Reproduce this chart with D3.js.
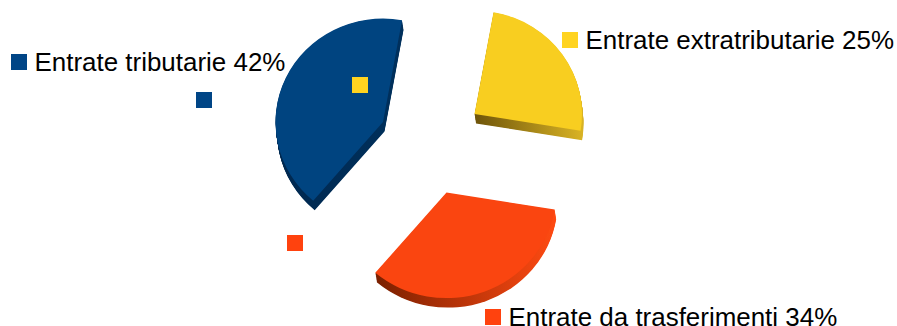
<!DOCTYPE html>
<html>
<head>
<meta charset="utf-8">
<script src="https://cdnjs.cloudflare.com/ajax/libs/d3/7.8.5/d3.min.js"></script>
<style>
html,body{margin:0;padding:0;background:#fff;overflow:hidden}
svg{display:block}
text{font-family:"Liberation Sans",Arial,sans-serif;font-size:25.95px;fill:#000}
</style>
</head>
<body>
<svg id="c" width="897" height="326"></svg>
<script>
// Data
const categories = ["Entrate tributarie", "Entrate extratributarie", "Entrate da trasferimenti"];
const shares = [42, 25, 34];
const pieOrder = [1, 2, 0];            // drawn clockwise from the start angle

// Styling
const markerColors = ["#004586", "#ffd320", "#ff420e"];
const faceColors = ["#004480", "#f8ce20", "#fa4510"];
const wallStops = [["#00284f", "#00305c"], ["#6f550a", "#d9b324"], ["#7a2000", "#ff4a12"]];

// Layout
const W = 897, H = 326;
const radiusX = 107.5, radiusY = 103.5, startDeg = 10.2;
const perspective = [1, 1, 1.02];      // the front slice sits nearer the viewer
const depth = { dx: 1.5, dy: 9.5, layers: 14 };
const apexes = [[383, 122], [474.5, 114], [446.5, 192.5]];
const legendPos = [[11, 54], [562, 32], [485, 309]];
const strayPos = [[196, 92], [352, 77], [287, 235]];
const marker = 16, labelGap = 7.5, baselineOffset = 17;

const svg = d3.select("#c");
const defs = svg.append("defs");

const pie = d3.pie().sort(null)
  .value(i => shares[i])
  .startAngle(startDeg * Math.PI / 180)
  .endAngle((startDeg + 360) * Math.PI / 180);
const arcs = pie(pieOrder);
const arc = d3.arc().innerRadius(0).outerRadius(100);

wallStops.forEach((s, i) => {
  const g = defs.append("linearGradient").attr("id", "wall" + i)
    .attr("x1", 0).attr("x2", 1).attr("y1", 0).attr("y2", 0);
  g.append("stop").attr("offset", "0%").attr("stop-color", s[0]);
  g.append("stop").attr("offset", "100%").attr("stop-color", s[1]);
});

arcs.forEach(a => {
  const i = a.data;
  const g = svg.append("g");
  const place = t => `translate(${apexes[i][0] + t * depth.dx},${apexes[i][1] + t * depth.dy}) scale(${perspective[i] * radiusX / 100},${perspective[i] * radiusY / 100})`;
  const steps = d3.range(depth.layers, 0, -1).map(k => k / depth.layers);
  g.selectAll("path.wall").data(steps).join("path")
    .attr("class", "wall")
    .attr("d", arc(a))
    .attr("transform", place)
    .attr("fill", `url(#wall${i})`);
  g.append("path")
    .attr("d", arc(a))
    .attr("transform", place(0))
    .attr("fill", faceColors[i]);
});

[legendPos, strayPos].forEach((pos, k) => {
  svg.append("g").selectAll("rect").data(categories).join("rect")
    .attr("x", (d, i) => pos[i][0]).attr("y", (d, i) => pos[i][1])
    .attr("width", marker).attr("height", marker)
    .attr("fill", (d, i) => markerColors[i]);
});

svg.append("g").selectAll("text").data(categories).join("text")
  .attr("x", (d, i) => legendPos[i][0] + marker + labelGap)
  .attr("y", (d, i) => legendPos[i][1] + baselineOffset)
  .text((d, i) => `${d} ${shares[i]}%`);
</script>
</body>
</html>
